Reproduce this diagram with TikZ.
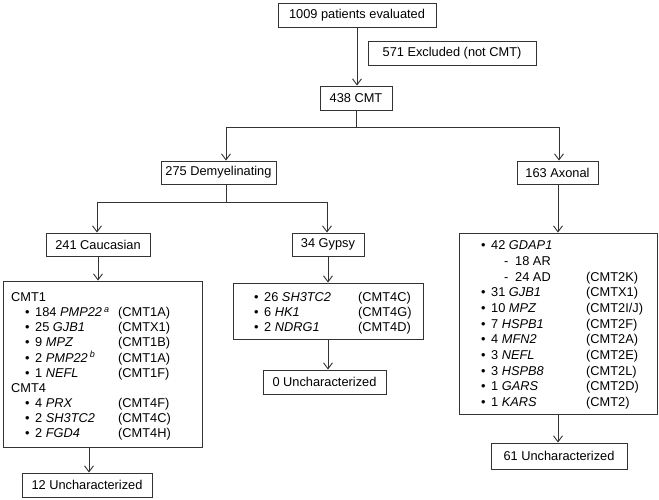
\documentclass[tikz,border=0pt]{standalone}
\usepackage{fontspec}
\setmainfont{Liberation Sans}
\usetikzlibrary{arrows.meta,positioning}

\newcommand{\bul}{\makebox[10pt][l]{\textbullet}}
\newcommand{\supit}[1]{\,\textsuperscript{\textit{#1}}}

\begin{document}
\begin{tikzpicture}[x=1pt,y=-1pt,
    box/.style={draw=black!80,line width=0.9pt,inner sep=0pt,font=\fontsize{12.8pt}{15pt}\selectfont},
    link/.style={draw=black!80,line width=0.9pt},
    arr/.style={link,-{Straight Barb[length=6pt,width=9pt]}},
    row/.style={anchor=base west,inner sep=0pt,font=\fontsize{12.8pt}{15pt}\selectfont}]
    \useasboundingbox (0,0) rectangle (659,500);

    % top of the tree
    \node[box,minimum width=158pt,minimum height=24pt] (eval) at (357,15) {1009 patients evaluated};
    \node[box,minimum width=168pt,minimum height=24pt] (excl) at (452,53) {571 Excluded (not CMT)};
    \node[box,minimum width=72pt,minimum height=24pt] (cmt) at (356,98) {438 CMT};

    \node[box,minimum width=115pt,minimum height=23pt] (dem) at (218.5,172.5) {275 Demyelinating};
    \node[box,minimum width=81pt,minimum height=23pt] (axo) at (557.5,172.5) {163 Axonal};

    \node[box,minimum width=104pt,minimum height=23pt] (cau) at (98,244.5) {241 Caucasian};
    \node[box,minimum width=72pt,minimum height=23pt] (gyp) at (328,244.5) {34 Gypsy};

    % gene lists
    \node[box,minimum width=199pt,minimum height=166pt] (caulist) at (102.5,364) {};
    \node[box,minimum width=190pt,minimum height=56pt] (gyplist) at (328,311) {};
    \node[box,minimum width=198pt,minimum height=181pt] (axolist) at (558,323.5) {};

    \node[box,minimum width=130pt,minimum height=24pt] (un12) at (87,485) {12 Uncharacterized};
    \node[box,minimum width=123pt,minimum height=24pt] (un0) at (324.5,382) {0 Uncharacterized};
    \node[box,minimum width=136pt,minimum height=26pt] (un61) at (559,456) {61 Uncharacterized};

    \node[row] (cauh1) at (11,301.6) {CMT1};
    \node[row] (cauh4) at (11,392.2) {CMT4};
    \foreach \r/\g/\t in {1/{184 \textit{PMP22}\supit{a}}/CMT1A,
                          2/{25 \textit{GJB1}}/CMTX1,
                          3/{9 \textit{MPZ}}/CMT1B,
                          4/{2 \textit{PMP22}\supit{b}}/CMT1A,
                          5/{1 \textit{NEFL}}/CMT1F,
                          7/{4 \textit{PRX}}/CMT4F,
                          8/{2 \textit{SH3TC2}}/CMT4C,
                          9/{2 \textit{FGD4}}/CMT4H} {
        \node[row] (caug\r) at (25,{301.6+\r*15.1}) {\bul\g};
        \node[row] (caut\r) at (118,{301.6+\r*15.1}) {(\t)};
    }

    \foreach \r/\g/\t in {0/{26 \textit{SH3TC2}}/CMT4C,
                          1/{6 \textit{HK1}}/CMT4G,
                          2/{2 \textit{NDRG1}}/CMT4D} {
        \node[row] (gypg\r) at (254,{301.6+\r*15}) {\bul\g};
        \node[row] (gypt\r) at (358,{301.6+\r*15}) {(\t)};
    }

    \node[row] (axog0) at (481,249.6) {\bul 42 \textit{GDAP1}};
    \node[row] (axod1) at (504,265.3) {-};
    \node[row] (axos1) at (515,265.3) {18 AR};
    \node[row] (axod2) at (504,281.0) {-};
    \node[row] (axos2) at (515,281.0) {24 AD};
    \node[row] (axot2) at (586,281.0) {(CMT2K)};
    \foreach \r/\g/\t in {3/{31 \textit{GJB1}}/CMTX1,
                          4/{10 \textit{MPZ}}/{CMT2I/J},
                          5/{7 \textit{HSPB1}}/CMT2F,
                          6/{4 \textit{MFN2}}/CMT2A,
                          7/{3 \textit{NEFL}}/CMT2E,
                          8/{3 \textit{HSPB8}}/CMT2L,
                          9/{1 \textit{GARS}}/CMT2D,
                          10/{1 \textit{KARS}}/CMT2} {
        \node[row] (axog\r) at (481,{249.6+\r*15.7}) {\bul\g};
        \node[row] (axot\r) at (586,{249.6+\r*15.7}) {(\t)};
    }

    % connectors
    \coordinate (jtop) at (357,127);
    \coordinate (jdem) at (226,127);
    \coordinate (jaxo) at (559,127);
    \coordinate (jsub) at (226,202);
    \coordinate (jcau) at (97,202);
    \coordinate (jgyp) at (327,202);

    \draw[arr] (eval.south) -- (eval.south |- cmt.north);
    \draw[link] (cmt.south) -- (cmt.south |- jtop);
    \draw[link] (jdem) -- (jaxo);
    \draw[arr] (jdem) -- (jdem |- dem.north);
    \draw[arr] (jaxo) -- (jaxo |- axo.north);

    \draw[link] (jsub |- dem.south) -- (jsub);
    \draw[link] (jcau) -- (jgyp);
    \draw[arr] (jcau) -- (jcau |- cau.north);
    \draw[arr] (jgyp) -- (jgyp |- gyp.north);

    \draw[arr] (cau.south) -- (cau.south |- caulist.north);
    \draw[arr] ([xshift=2pt]un12.north |- caulist.south) -- ([xshift=2pt]un12.north);
    \draw[arr] (gyp.south) -- (gyp.south |- gyplist.north);
    \draw[arr] (gyplist.south) -- (gyplist.south |- un0.north);
    \draw[arr] (axolist.north |- axo.south) -- (axolist.north);
    \draw[arr] (axolist.south) -- (axolist.south |- un61.north);
\end{tikzpicture}
\end{document}
